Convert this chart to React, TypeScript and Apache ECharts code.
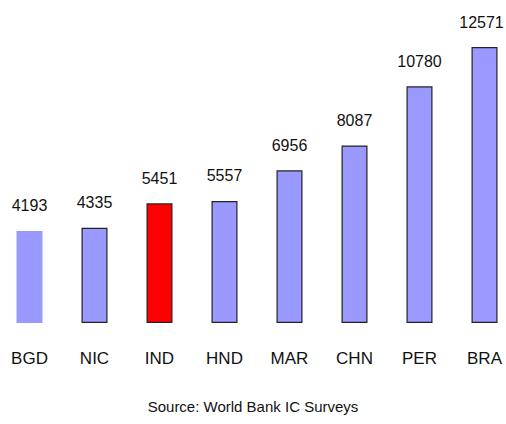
import React, { useEffect, useRef } from "react";
import * as echarts from "echarts";

const categories = ["BGD", "NIC", "IND", "HND", "MAR", "CHN", "PER", "BRA"];
const values = [4193, 4335, 5451, 5557, 6956, 8087, 10780, 12571];
const highlight = "IND";
const noBorder = "BGD";
const sourceText = "Source: World Bank IC Surveys";

const FONT = "'Liberation Sans Narrow', 'Arial Narrow', 'Liberation Sans', Arial, sans-serif";

export default function App() {
  const ref = useRef<HTMLDivElement>(null);
  useEffect(() => {
    if (!ref.current) return;
    const chart = echarts.init(ref.current, null, { renderer: "svg" });
    const last = categories.length - 1;
    chart.setOption({
      animation: false,
      backgroundColor: "#ffffff",
      grid: { left: 0, right: 0, top: 47, bottom: 101 },
      xAxis: {
        type: "category",
        data: categories,
        axisLine: { show: false },
        axisTick: { show: false },
        axisLabel: { color: "#111", fontFamily: FONT, fontSize: 17, margin: 27 },
      },
      yAxis: {
        type: "value",
        min: 0,
        max: "dataMax",
        show: false,
        splitLine: { show: false },
      },
      series: [
        {
          type: "bar",
          barWidth: 26,
          data: values.map((v, i) => ({
            value: v,
            itemStyle: {
              color: categories[i] === highlight ? "#ff0000" : "#9999ff",
              borderColor: categories[i] === noBorder ? "transparent" : "#222",
              borderWidth: categories[i] === noBorder ? 0 : 1.2,
            },
            label: i === last ? { offset: [-3, 0] } : undefined,
          })),
          label: {
            show: true,
            position: "top",
            distance: 17,
            color: "#111",
            fontFamily: FONT,
            fontSize: 16,
          },
        },
      ],
      graphic: [
        {
          type: "text",
          x: 256,
          y: 399,
          style: { text: sourceText, fill: "#111", font: `15px ${FONT}`, align: "center" },
        },
      ],
    });
    return () => chart.dispose();
  }, []);
  return (
    <div
      ref={ref}
      style={{ position: "fixed", left: -3.5, top: 0, width: 520, height: 424 }}
    />
  );
}
